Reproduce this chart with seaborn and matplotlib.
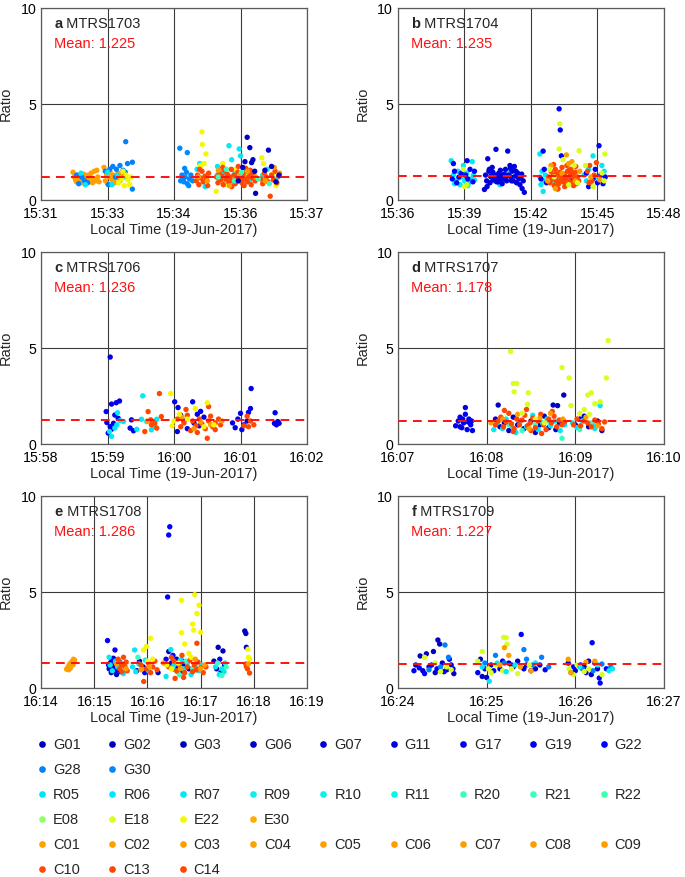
import matplotlib
matplotlib.use("Agg")
import pandas as pd
import matplotlib.pyplot as plt
from matplotlib.lines import Line2D
import seaborn as sns

# satellites shown in the legend, one row group per constellation
sats_g = ["G01", "G02", "G03", "G06", "G07", "G11", "G17", "G19", "G22", "G28", "G30"]
sats_r = ["R05", "R06", "R07", "R09", "R10", "R11", "R20", "R21", "R22"]
sats_e = ["E08", "E18", "E22", "E30"]
sats_c = ["C01", "C02", "C03", "C04", "C05", "C06", "C07", "C08", "C09", "C10", "C13", "C14"]

panel_ids = ["a", "b", "c", "d", "e", "f"]
stations = ["MTRS1703", "MTRS1704", "MTRS1706", "MTRS1707", "MTRS1708", "MTRS1709"]
means = [1.225, 1.235, 1.236, 1.178, 1.286, 1.227]
tick_labels = [
    ["15:31", "15:33", "15:34", "15:36", "15:37"],
    ["15:36", "15:39", "15:42", "15:45", "15:48"],
    ["15:58", "15:59", "16:00", "16:01", "16:02"],
    ["16:07", "16:08", "16:09", "16:10"],
    ["16:14", "16:15", "16:16", "16:17", "16:18", "16:19"],
    ["16:24", "16:25", "16:26", "16:27"],
]
spans = [6, 12, 4, 3, 5, 3]  # minutes covered by each x axis

# (minutes after first tick, ratio) per satellite
pts_a = {
    "C03": [(0.72, 1.45), (0.75, 1.20), (0.78, 1.05), (0.80, 0.95), (0.83, 1.30), (0.86, 1.10),
            (0.88, 0.90), (0.90, 1.25), (0.93, 1.00), (0.96, 1.35), (0.98, 0.85), (1.00, 1.15),
            (1.03, 1.05), (1.06, 1.30), (1.08, 0.95), (1.10, 1.20), (1.13, 1.40), (1.16, 0.90),
            (1.18, 1.10), (1.20, 1.50), (1.23, 1.00), (1.26, 1.55), (1.28, 1.20), (1.31, 0.95),
            (1.42, 1.70), (1.45, 1.00), (1.48, 1.30), (1.50, 0.85), (1.53, 1.20), (1.56, 1.45),
            (1.60, 1.05), (1.63, 1.30), (1.66, 0.90), (1.70, 1.15), (1.74, 1.40), (1.78, 1.00),
            (1.82, 1.25)],
    "G28": [(0.80, 1.30), (0.85, 0.85), (0.92, 1.20), (0.98, 1.00), (1.05, 0.90), (1.45, 1.50),
            (1.55, 1.60), (1.62, 1.75), (1.70, 1.60), (1.78, 1.80), (1.85, 1.55), (1.90, 1.45),
            (1.95, 1.90), (1.91, 3.04), (2.06, 1.97), (2.06, 0.57), (1.52, 0.80), (1.68, 1.20)],
    "R07": [(0.90, 1.40), (1.00, 0.80), (1.50, 1.45), (1.60, 0.80), (1.72, 1.30), (1.90, 1.20),
            (3.52, 1.60), (3.70, 0.70), (3.98, 1.30), (4.02, 1.10), (4.05, 1.50), (4.10, 0.95),
            (4.15, 1.40), (4.20, 1.20), (4.24, 2.83), (4.28, 1.00), (4.30, 2.10), (4.35, 1.55),
            (4.40, 1.25), (4.47, 2.66), (4.50, 2.30), (4.55, 1.15), (4.62, 1.45), (4.70, 1.00),
            (5.00, 1.30), (5.10, 1.60), (5.25, 1.10), (5.35, 1.20), (3.58, 1.90), (3.98, 1.75)],
    "E22": [(1.75, 0.90), (1.82, 1.10), (1.88, 0.75), (1.92, 1.30), (1.96, 1.05), (2.00, 0.80),
            (2.03, 1.20), (1.85, 1.50), (3.63, 3.55), (3.64, 2.90), (3.72, 2.40), (3.68, 1.90),
            (3.60, 1.80), (4.10, 1.90), (3.95, 0.45), (4.05, 1.00), (4.20, 0.80), (4.40, 1.60),
            (4.60, 1.25), (4.80, 1.40), (4.98, 2.20), (5.02, 1.90), (5.10, 1.00), (5.22, 1.35),
            (5.30, 0.75)],
    "G30": [(3.13, 2.70), (3.30, 2.47), (3.18, 1.30), (3.20, 1.10), (3.22, 0.95), (3.25, 1.20),
            (3.28, 1.45), (3.30, 0.85), (3.35, 1.10), (3.38, 1.30), (3.42, 1.00), (3.24, 1.65),
            (3.15, 1.00), (3.33, 0.75)],
    "C13": [(3.50, 1.00), (3.53, 1.30), (3.56, 0.80), (3.60, 1.15), (3.63, 1.50), (3.66, 0.95),
            (3.70, 1.25), (3.73, 1.10), (3.76, 0.75), (3.78, 1.40), (3.58, 1.60), (3.96, 1.20),
            (3.99, 0.90), (4.02, 1.40), (4.05, 1.05), (4.08, 1.25), (4.11, 0.80), (4.14, 1.55),
            (4.17, 1.10), (4.20, 1.35), (4.23, 0.95), (4.26, 1.20), (4.29, 1.60), (4.32, 1.00),
            (4.35, 1.30), (4.38, 0.85), (4.41, 1.15), (4.44, 1.45), (4.47, 1.05), (4.50, 1.25),
            (4.53, 0.90), (4.56, 1.35), (4.59, 1.10), (4.62, 1.65), (4.65, 0.95), (4.68, 1.20),
            (4.71, 1.40), (4.74, 0.80), (4.77, 1.15), (4.80, 1.30), (4.83, 1.00), (4.10, 1.70),
            (4.30, 0.70), (4.45, 1.75), (4.58, 0.75), (4.72, 1.55), (4.96, 1.10), (5.00, 0.85),
            (5.04, 1.40), (5.08, 1.20), (5.12, 0.95), (5.17, 0.20), (5.20, 1.30), (5.24, 1.05),
            (5.28, 1.50), (5.32, 0.90), (5.36, 1.25)],
    "C06": [(3.55, 1.20), (3.75, 1.00), (4.00, 1.55), (4.25, 0.75), (4.48, 1.30), (4.66, 1.50),
            (4.84, 1.20), (5.06, 1.00), (5.26, 1.70), (5.38, 1.40)],
    "R21": [(4.00, 1.20), (4.18, 1.60), (4.36, 1.00), (4.52, 1.45), (4.90, 1.10), (5.15, 0.85)],
    "G03": [(4.65, 3.27), (4.71, 2.73), (4.78, 2.10), (4.84, 0.35), (4.60, 2.00), (4.75, 1.95),
            (4.55, 1.70), (4.82, 1.50), (5.13, 2.60), (5.20, 1.75), (5.30, 0.95), (5.37, 1.30),
            (5.05, 1.55), (4.45, 1.00)],
}

pts_b = {
    "R07": [(2.40, 2.05), (2.50, 1.30), (2.60, 1.00), (2.70, 1.50), (2.80, 0.80), (2.90, 1.20),
            (3.00, 1.00), (3.10, 1.40), (3.20, 0.90), (3.30, 1.10), (3.40, 1.30), (2.95, 1.80),
            (3.35, 2.00), (2.55, 0.85), (2.75, 1.15), (3.15, 0.75), (3.45, 1.05), (4.35, 1.00),
            (4.60, 0.80), (5.00, 1.50), (5.20, 1.60), (4.10, 0.90), (6.40, 1.20), (6.45, 0.80),
            (6.50, 1.50), (6.55, 0.45), (6.60, 1.00), (6.65, 1.30), (6.40, 2.40), (8.40, 1.30),
            (8.50, 1.00), (8.60, 1.60), (8.70, 0.80), (8.90, 1.20), (9.20, 1.80), (9.30, 1.50),
            (8.80, 2.30), (7.00, 0.90), (7.50, 1.10), (7.20, 0.55)],
    "G22": [(2.45, 1.10), (2.55, 1.50), (2.65, 0.90), (2.75, 1.20), (2.85, 1.40), (3.05, 1.30),
            (3.15, 1.10), (3.25, 1.60), (3.38, 0.95), (3.45, 1.50), (3.12, 2.05), (2.50, 1.90),
            (6.55, 2.55), (6.45, 1.10), (6.60, 1.60), (6.70, 0.90), (7.27, 4.75), (7.32, 3.65),
            (7.37, 2.30), (7.10, 1.20), (7.80, 1.00), (9.07, 2.83), (8.50, 1.40), (8.60, 0.70),
            (8.80, 1.10), (9.00, 0.90), (9.15, 1.30), (9.25, 0.85), (9.35, 1.20), (8.90, 1.60)],
    "G11": [(3.90, 0.55), (3.95, 1.30), (4.00, 1.00), (4.05, 2.15), (4.10, 1.50), (4.15, 0.90),
            (4.20, 1.20), (4.25, 1.70), (4.30, 1.05), (4.42, 2.64), (4.40, 1.30), (4.45, 0.95),
            (4.50, 1.15), (4.55, 1.40), (4.60, 1.00), (4.65, 1.25), (4.70, 0.85), (4.75, 1.10),
            (4.80, 1.35), (4.85, 1.60), (4.90, 1.00), (4.95, 2.55), (5.00, 1.30), (5.05, 1.80),
            (5.10, 1.20), (5.15, 1.50), (5.20, 1.00), (5.25, 1.75), (5.30, 1.25), (5.35, 0.90),
            (5.40, 1.40), (5.45, 1.10), (5.50, 0.80), (5.55, 1.20), (5.60, 0.60), (5.70, 0.40),
            (4.12, 1.60), (4.28, 1.45), (4.62, 1.55), (4.88, 1.20), (5.12, 1.00), (4.02, 0.70),
            (4.38, 1.10), (4.72, 1.30), (5.08, 1.65), (5.32, 1.50), (5.58, 1.35), (5.65, 1.00),
            (4.18, 1.25), (4.52, 0.95)],
    "C13": [(6.80, 1.20), (6.85, 0.90), (6.90, 1.50), (6.95, 1.10), (7.00, 1.30), (7.05, 0.75),
            (7.10, 1.60), (7.15, 1.00), (7.20, 1.25), (7.25, 0.85), (7.30, 1.45), (7.35, 1.05),
            (7.40, 1.70), (7.45, 0.95), (7.50, 1.35), (7.55, 1.15), (7.60, 0.80), (7.65, 1.50),
            (7.70, 1.00), (7.75, 1.25), (7.80, 1.60), (7.85, 0.90), (7.90, 1.30), (7.95, 1.10),
            (8.00, 1.45), (8.05, 0.85), (8.10, 1.20), (8.15, 1.00), (7.02, 1.85), (7.22, 0.60),
            (7.42, 1.20), (7.62, 1.80), (7.82, 1.40), (8.02, 1.75), (7.12, 1.35), (7.52, 0.70),
            (7.72, 1.55), (7.92, 0.75), (8.55, 1.50), (8.65, 1.80), (8.75, 1.00), (8.85, 1.30),
            (8.95, 1.95), (8.62, 0.90)],
    "C06": [(6.90, 1.80), (7.10, 0.60), (7.60, 2.35), (7.40, 1.40), (7.70, 1.90), (8.00, 1.00),
            (8.20, 1.50), (6.75, 1.00), (7.85, 2.00), (8.70, 1.20), (9.10, 1.05)],
    "E18": [(3.00, 0.70), (2.95, 1.60), (3.10, 0.80), (7.30, 3.97), (7.27, 2.66), (8.17, 2.57),
            (6.85, 1.60), (7.05, 1.20), (7.45, 2.10), (7.70, 0.80), (7.95, 1.80), (8.10, 0.90),
            (9.33, 2.40), (8.45, 1.80), (9.20, 1.40), (9.30, 1.00), (8.80, 0.70)],
}

pts_c = {
    "G17": [(0.98, 1.69), (1.04, 4.53), (1.06, 2.08), (1.13, 2.15), (1.18, 2.24), (0.99, 1.12),
            (1.01, 0.57), (1.06, 0.77), (1.11, 1.51), (1.09, 1.08), (1.16, 1.34), (1.04, 0.91),
            (1.34, 0.83), (1.39, 0.69), (1.36, 1.26), (2.01, 2.20), (2.06, 1.90), (2.10, 1.50),
            (2.15, 1.20), (2.20, 0.80), (2.28, 2.20), (2.35, 1.55), (2.30, 1.10), (2.40, 1.70),
            (2.38, 0.95), (2.05, 0.65), (2.45, 1.40), (2.88, 1.10), (2.92, 0.85), (2.96, 1.30),
            (3.00, 1.60), (3.05, 1.00), (3.10, 1.20), (3.12, 1.65), (3.15, 1.85), (3.02, 0.75),
            (3.16, 2.89), (3.52, 1.63), (3.56, 1.17), (3.54, 1.00), (3.58, 1.08), (3.51, 1.08)],
    "R07": [(1.06, 0.40), (1.11, 0.83), (1.15, 1.63), (1.19, 1.22), (1.24, 1.17), (1.14, 1.00),
            (1.03, 0.65), (1.44, 0.77), (1.51, 1.29), (1.53, 2.51), (1.59, 1.17), (1.66, 0.74),
            (1.70, 0.91), (1.74, 1.29)],
    "C13": [(1.56, 0.65), (1.61, 1.69), (1.65, 1.26), (1.71, 1.08), (1.78, 2.63), (1.81, 1.43),
            (1.74, 0.83), (1.66, 1.00), (2.05, 1.30), (2.10, 0.90), (2.15, 1.10), (2.20, 1.50),
            (2.25, 0.70), (2.28, 1.20), (2.33, 0.95), (2.38, 1.30), (2.42, 1.05), (2.47, 0.80),
            (2.52, 1.20), (2.55, 1.45), (2.58, 0.90), (2.62, 1.10), (2.67, 1.30), (2.70, 1.00),
            (2.35, 0.60), (2.52, 1.95), (2.18, 1.80), (2.50, 0.30), (2.62, 0.75), (3.12, 0.90),
            (3.15, 1.20), (3.10, 1.45), (3.20, 1.00), (3.05, 0.95)],
    "C06": [(2.12, 1.40), (2.30, 0.80), (2.40, 1.15), (2.55, 1.00), (2.72, 1.20), (1.60, 1.20)],
    "E22": [(1.95, 2.63), (1.97, 0.95), (2.00, 1.20), (2.08, 1.55), (2.20, 1.30), (2.32, 1.85),
            (2.50, 2.15), (2.60, 1.00), (2.45, 0.90)],
}

pts_d = {
    "G19": [(0.65, 0.95), (0.68, 1.20), (0.70, 1.40), (0.72, 0.85), (0.74, 1.10), (0.76, 1.55),
            (0.78, 0.75), (0.80, 1.30), (0.82, 1.00), (0.84, 0.70), (0.76, 1.90), (0.70, 0.90),
            (0.79, 1.15), (0.73, 1.30), (0.83, 1.20)],
    "G03": [(1.13, 2.03), (1.10, 1.30), (1.15, 0.90), (1.20, 1.10), (1.25, 0.70), (1.30, 1.40),
            (1.35, 1.00), (1.42, 0.80), (1.50, 1.20), (1.55, 0.60), (1.60, 1.00), (1.65, 1.45),
            (1.70, 0.85), (1.75, 2.03), (1.80, 2.00), (1.87, 2.55), (1.82, 1.10), (1.78, 0.75),
            (2.00, 1.00), (2.05, 1.30), (2.15, 0.90), (2.25, 1.20), (2.30, 0.70), (2.10, 1.45)],
    "R07": [(1.08, 0.75), (1.12, 1.10), (1.18, 0.80), (1.22, 1.30), (1.28, 0.95), (1.33, 0.60),
            (1.38, 1.20), (1.45, 0.90), (1.52, 1.50), (1.58, 0.75), (1.63, 1.10), (1.68, 1.30),
            (1.72, 0.95), (1.77, 1.20), (1.83, 0.70), (1.88, 1.00), (1.97, 1.10), (2.02, 0.85),
            (2.08, 1.20), (2.20, 1.00), (2.28, 2.00), (2.22, 0.80)],
    "R21": [(1.40, 0.70), (1.55, 1.00), (1.70, 1.20), (1.85, 0.30), (2.05, 0.75), (2.18, 1.10),
            (1.25, 1.00)],
    "C13": [(1.10, 1.00), (1.13, 1.20), (1.16, 1.40), (1.19, 0.90), (1.22, 1.15), (1.25, 1.60),
            (1.28, 1.05), (1.31, 0.80), (1.34, 1.30), (1.37, 1.00), (1.40, 1.25), (1.43, 1.50),
            (1.46, 0.95), (1.49, 1.10), (1.52, 1.35), (1.55, 0.85), (1.58, 1.20), (1.61, 1.55),
            (1.64, 1.00), (1.67, 0.75), (1.70, 1.30), (1.73, 1.10), (1.76, 1.45), (1.79, 0.90),
            (1.82, 1.25), (1.85, 1.00), (1.88, 1.15), (1.20, 1.75), (1.45, 1.80), (1.62, 0.55),
            (1.74, 1.70), (1.30, 0.65), (1.50, 0.70), (1.98, 1.00), (2.02, 1.30), (2.06, 0.95),
            (2.10, 1.20), (2.14, 1.10), (2.18, 0.90), (2.22, 1.25), (2.26, 1.05), (2.30, 0.80),
            (2.33, 1.15)],
    "C06": [(1.18, 1.30), (1.35, 1.55), (1.48, 0.80), (1.60, 1.35), (1.72, 1.60), (1.86, 1.30),
            (2.12, 1.40), (2.25, 0.95), (1.05, 1.10)],
    "E18": [(1.27, 4.82), (1.30, 3.15), (1.34, 3.15), (1.31, 2.72), (1.47, 2.67), (1.46, 2.07),
            (1.85, 3.98), (1.93, 3.44), (1.95, 2.00), (2.14, 2.55), (2.18, 2.67), (2.37, 5.39),
            (2.35, 3.44), (2.22, 2.10), (2.28, 2.20), (2.10, 1.80), (1.55, 1.30), (1.65, 1.10),
            (1.40, 1.60), (2.05, 1.60), (2.16, 1.55)],
}

pts_e = {
    "C03": [(0.48, 0.98), (0.51, 1.12), (0.54, 1.26), (0.58, 1.38), (0.61, 1.50), (0.55, 1.03),
            (0.60, 1.20), (0.52, 0.95), (0.63, 1.45)],
    "G03": [(1.28, 1.00), (1.30, 1.30), (1.32, 0.80), (1.35, 1.10), (1.38, 0.90), (1.40, 1.20),
            (1.42, 0.70), (1.45, 1.00), (1.48, 1.35), (1.50, 0.85), (1.36, 1.55), (1.80, 0.90),
            (1.85, 1.40), (1.92, 1.10), (2.40, 1.90), (2.45, 1.30), (2.50, 1.00), (2.55, 1.50),
            (2.62, 0.80), (2.70, 1.20), (2.78, 1.00), (3.25, 1.40), (3.30, 1.00), (3.33, 2.12),
            (3.42, 1.93), (3.38, 0.80), (3.45, 1.20), (3.83, 2.97), (3.85, 2.84), (3.86, 2.12),
            (2.20, 0.80)],
    "G22": [(1.25, 2.47), (1.39, 1.98), (1.27, 1.20), (1.33, 1.45), (1.41, 0.95), (1.46, 1.20),
            (2.38, 4.74), (2.42, 8.40), (2.40, 7.97), (2.35, 1.50), (2.48, 1.70), (2.58, 1.10),
            (2.66, 1.40), (3.36, 1.50), (1.95, 0.80)],
    "R07": [(1.28, 1.60), (1.30, 1.20), (1.34, 0.90), (1.40, 1.40), (1.44, 1.10), (1.50, 1.30),
            (1.55, 0.75), (1.76, 1.98), (1.72, 1.10), (1.78, 0.85), (1.84, 1.25), (1.90, 1.00),
            (1.96, 1.45), (2.02, 0.90), (2.35, 0.60), (2.44, 2.00), (2.50, 1.20), (2.56, 0.85),
            (2.62, 1.45), (2.68, 1.00), (2.75, 1.30), (2.82, 0.70), (2.90, 1.10), (2.96, 0.90),
            (3.02, 1.20), (3.28, 1.10), (3.35, 0.70), (3.40, 1.00), (3.46, 1.30), (3.44, 0.85)],
    "R21": [(1.82, 1.60), (2.48, 1.00), (2.60, 0.70), (2.72, 1.40), (2.85, 1.00), (3.32, 1.30),
            (3.48, 1.10), (3.40, 0.65)],
    "C13": [(1.45, 1.50), (1.48, 1.00), (1.50, 1.25), (1.52, 0.85), (1.55, 1.60), (1.58, 1.10),
            (1.60, 1.35), (1.62, 0.90), (1.55, 1.20), (1.88, 1.20), (1.93, 0.34), (1.98, 1.00),
            (2.02, 1.30), (2.06, 0.80), (2.10, 1.10), (2.14, 1.40), (2.18, 0.95), (2.40, 1.10),
            (2.45, 1.60), (2.50, 1.40), (2.55, 0.90), (2.60, 1.20), (2.65, 1.70), (2.70, 0.80),
            (2.75, 1.10), (2.80, 1.45), (2.85, 0.85), (2.93, 2.33), (2.88, 1.20), (2.92, 0.95),
            (2.95, 1.35), (3.00, 1.05), (3.05, 0.80), (3.10, 1.10), (2.52, 0.50), (2.68, 0.55),
            (3.86, 1.12), (3.88, 1.00), (3.92, 0.78), (3.85, 1.25)],
    "E22": [(1.93, 1.98), (1.98, 2.16), (2.06, 2.59), (2.00, 1.40), (2.10, 1.50), (2.64, 4.57),
            (2.89, 4.86), (2.97, 4.31), (2.93, 3.88), (2.85, 3.33), (2.87, 3.02), (2.64, 2.88),
            (3.00, 2.90), (2.70, 2.29), (2.45, 1.00), (2.58, 1.30), (2.78, 1.80), (2.82, 1.60),
            (2.36, 1.20), (3.89, 2.02), (3.90, 1.60), (3.92, 1.50)],
    "C06": [(1.42, 1.25), (1.60, 1.00), (1.88, 0.95), (2.04, 1.10), (2.30, 1.30), (2.62, 1.00),
            (2.90, 1.50), (3.00, 1.00), (3.08, 1.20), (3.90, 1.25)],
}

pts_f = {
    "G03": [(0.45, 2.50), (0.47, 2.29), (0.40, 1.90), (0.32, 1.78), (0.25, 1.67), (0.20, 1.20),
            (0.28, 0.90), (0.35, 1.10), (0.42, 0.80), (0.50, 1.30), (0.55, 0.95), (0.60, 1.20),
            (0.63, 0.75), (0.95, 0.60), (1.00, 0.55), (0.93, 1.50), (1.05, 1.20), (1.15, 1.00),
            (1.25, 1.30), (1.35, 1.40), (1.45, 1.20), (1.55, 1.00), (1.30, 1.10), (1.92, 1.30),
            (2.00, 0.90), (2.10, 1.10), (2.15, 1.40), (2.25, 1.00), (2.18, 0.70)],
    "G22": [(0.18, 0.90), (0.24, 1.05), (0.30, 0.75), (0.38, 1.20), (0.44, 1.00), (0.52, 0.85),
            (0.58, 1.50), (0.62, 1.00), (0.90, 0.80), (0.98, 1.00), (1.08, 0.90), (1.18, 1.40),
            (1.28, 1.20), (1.39, 2.79), (1.42, 1.00), (1.50, 0.90), (1.60, 1.20), (1.66, 0.95),
            (1.98, 1.10), (2.06, 1.20), (2.12, 0.80), (2.19, 2.36), (2.22, 1.30), (2.27, 0.52),
            (2.28, 0.26), (2.35, 1.00)],
    "G28": [(0.53, 2.24), (0.57, 1.60), (0.35, 0.95), (0.48, 1.10), (1.10, 1.70), (1.20, 1.30),
            (1.42, 2.00), (1.45, 1.50), (1.52, 1.20), (1.62, 1.60), (1.70, 1.10), (2.08, 1.00),
            (2.20, 0.90), (2.30, 1.25), (2.40, 1.10), (0.98, 1.30)],
    "E18": [(0.30, 1.60), (0.42, 1.30), (0.48, 0.85), (0.55, 1.10), (0.60, 0.95), (0.90, 1.40),
            (0.95, 1.90), (1.02, 1.00), (1.10, 1.20), (1.19, 2.64), (1.22, 2.62), (1.23, 2.28),
            (1.18, 0.90), (1.28, 1.00), (1.35, 0.75), (1.48, 1.20), (1.93, 1.00), (1.98, 0.70),
            (2.02, 1.20), (2.10, 0.85), (2.15, 1.00), (2.30, 0.70), (1.05, 0.80)],
    "R07": [(0.95, 1.10), (1.12, 1.30), (1.22, 0.85), (1.03, 0.35), (1.32, 1.20), (1.55, 1.30),
            (2.05, 1.10), (2.25, 1.20), (2.38, 0.90), (2.42, 1.00), (1.95, 0.80)],
    "C06": [(1.20, 2.10), (1.25, 1.70), (1.38, 1.10), (1.50, 0.90), (1.92, 1.50), (1.95, 0.80),
            (2.12, 1.35), (2.22, 1.40), (1.15, 1.20)],
}

# jet colormap position of each satellite (matches the legend swatches)
jet_pos = {
    "G01": .05, "G02": .055, "G03": .06, "G06": .07, "G07": .075, "G11": .085, "G17": .095,
    "G19": .10, "G22": .11, "G28": .25, "G30": .26,
    "R05": .35, "R06": .35, "R07": .355, "R09": .36, "R10": .36, "R11": .365,
    "R20": .42, "R21": .42, "R22": .43,
    "E08": .53, "E18": .61, "E22": .645, "E30": .73,
    "C01": .74, "C02": .74, "C03": .74, "C04": .74, "C05": .74, "C06": .745, "C07": .745,
    "C08": .745, "C09": .745, "C10": .83, "C13": .835, "C14": .835,
}
jet = plt.get_cmap("jet")
palette = {s: jet(p) for s, p in jet_pos.items()}

rows = []
for pid, pts in zip(panel_ids, [pts_a, pts_b, pts_c, pts_d, pts_e, pts_f]):
    for sat, pairs in pts.items():
        for t, r in pairs:
            rows.append({"panel": pid, "sat": sat, "t": t, "ratio": r})
df = pd.DataFrame(rows)

sns.set_theme(style="white")
plt.rcParams["font.family"] = ["Liberation Sans", "DejaVu Sans"]
plt.rcParams["font.size"] = 10.5

fig = plt.figure(figsize=(6.85, 8.77), dpi=100)
lefts = [0.0599, 0.581]
bottoms = [0.7719, 0.4937, 0.2155]
w, h = 0.3883, 0.2189

for i, pid in enumerate(panel_ids):
    ax = fig.add_axes([lefts[i % 2], bottoms[i // 2], w, h])
    sub = df[df["panel"] == pid]
    sns.scatterplot(data=sub, x="t", y="ratio", hue="sat", palette=palette, s=15,
                    linewidth=0, alpha=1, legend=False, ax=ax, zorder=3)
    ax.axhline(means[i], color="#ff1010", lw=1.4, ls=(0, (4.5, 3.2)), zorder=5)

    n = len(tick_labels[i])
    ax.set_xlim(0, spans[i])
    ax.set_xticks([spans[i] * k / (n - 1) for k in range(n)])
    ax.set_xticklabels(tick_labels[i])
    ax.set_ylim(0, 10)
    ax.set_yticks([0, 5, 10])
    ax.set_yticklabels(["0", "5", "10"])
    ax.grid(True, color="#3a3a3a", lw=0.8)
    ax.set_axisbelow(True)
    ax.tick_params(length=0, labelsize=10.2, colors="black")
    ax.tick_params(axis="x", pad=5)
    ax.tick_params(axis="y", pad=3.5)
    for sp in ax.spines.values():
        sp.set_color("#5a5a5a")
        sp.set_linewidth(0.9)

    ax.set_xlabel("Local Time (19-Jun-2017)", fontsize=10.5)
    ax.set_ylabel("Ratio", fontsize=10.5)
    ax.xaxis.set_label_coords(0.5, -0.12)
    ax.yaxis.set_label_coords(-0.105, 0.5)

    t = ax.text(0.05, 0.895, pid, transform=ax.transAxes, fontsize=10.5,
                fontweight="bold", va="baseline")
    ax.annotate(" " + stations[i], xy=(1, 0), xycoords=t, va="bottom", fontsize=10.5)
    ax.text(0.05, 0.79, f"Mean: {means[i]:.3f}", transform=ax.transAxes,
            fontsize=10.5, color="#ff1010", va="baseline")

# legend laid out row by row, one constellation group per row block
legend_rows = [sats_g[:9], sats_g[9:], sats_r, sats_e, sats_c[:9], sats_c[9:]]
blank = Line2D([], [], linestyle="", marker="")
grid = []
for row in legend_rows:
    cells = [(Line2D([], [], linestyle="", marker="o", markersize=4.8,
                     markerfacecolor=palette[s], markeredgewidth=0), s) for s in row]
    cells += [(blank, "")] * (9 - len(row))
    grid.append(cells)
handles, labels = [], []
for c in range(9):
    for r in range(len(grid)):
        handles.append(grid[r][c][0])
        labels.append(grid[r][c][1])

fig.legend(handles, labels, ncol=9, loc="upper left", bbox_to_anchor=(0.055, 0.1585),
           frameon=False, fontsize=10.5, handlelength=0.6, handletextpad=0.45,
           columnspacing=1.87, labelspacing=0.76, borderpad=0, borderaxespad=0)

fig.savefig("out.png", dpi=100)
